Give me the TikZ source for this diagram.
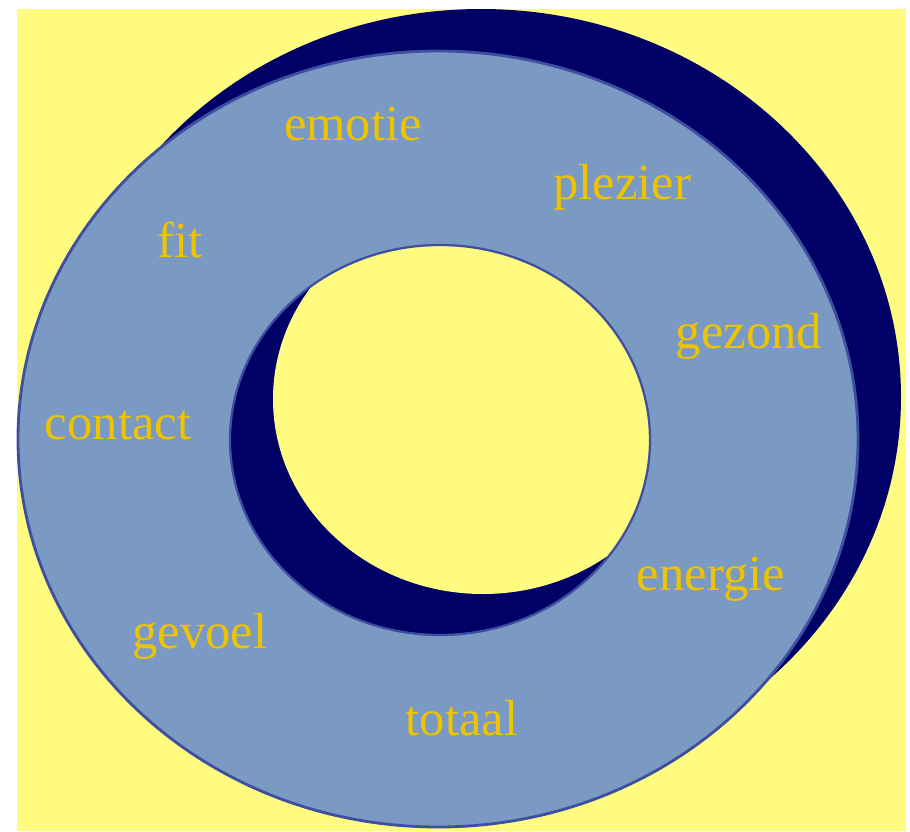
\documentclass[tikz,border=0pt]{standalone}
\usepackage{fontspec}
\setmainfont{Liberation Serif}
\usetikzlibrary{positioning}
\definecolor{cBg}{RGB}{255,252,128}
\definecolor{cFace}{RGB}{122,154,196}
\definecolor{cBack}{RGB}{0,0,102}
\definecolor{cRim}{RGB}{62,78,160}
\definecolor{cWord}{RGB}{238,196,0}

\begin{document}
\begin{tikzpicture}[x=0.025cm, y=-0.025cm,
    word/.style={text=cWord, anchor=base, font=\fontsize{36}{42}\selectfont}]
    \useasboundingbox (0,0) rectangle (910,831);

    % Yellow background
    \fill[cBg] (17,9) rectangle (906,831);

    % Back side of the ring
    \fill[cBack] (481,397) ellipse [x radius=420, y radius=388];

    % Front face
    \fill[cFace] (438,439) ellipse [x radius=420, y radius=388];

    % Inner wall seen through the hole
    \fill[cBack] (440,440) ellipse [x radius=210, y radius=195];
    \begin{scope}
        \clip (440,440) ellipse [x radius=210, y radius=195];
        \fill[cBg] (483,399) ellipse [x radius=210, y radius=195];
    \end{scope}

    % Rims of the front face
    \draw[cRim, line width=2pt] (438,439) ellipse [x radius=420, y radius=388];
    \draw[cRim, line width=1.6pt] (440,440) ellipse [x radius=210, y radius=195];

    % Words on the ring
    \node[word] (emotie) at (353,140) {emotie};
    \node[word] (plezier) at (622,199) {plezier};
    \node[word] (fit) at (180,257) {fit};
    \node[word] (gezond) at (749,348) {gezond};
    \node[word] (contact) at (118,439) {contact};
    \node[word] (energie) at (711,590) {energie};
    \node[word] (gevoel) at (200,648) {gevoel};
    \node[word] (totaal) at (462,735) {totaal};
\end{tikzpicture}
\end{document}
